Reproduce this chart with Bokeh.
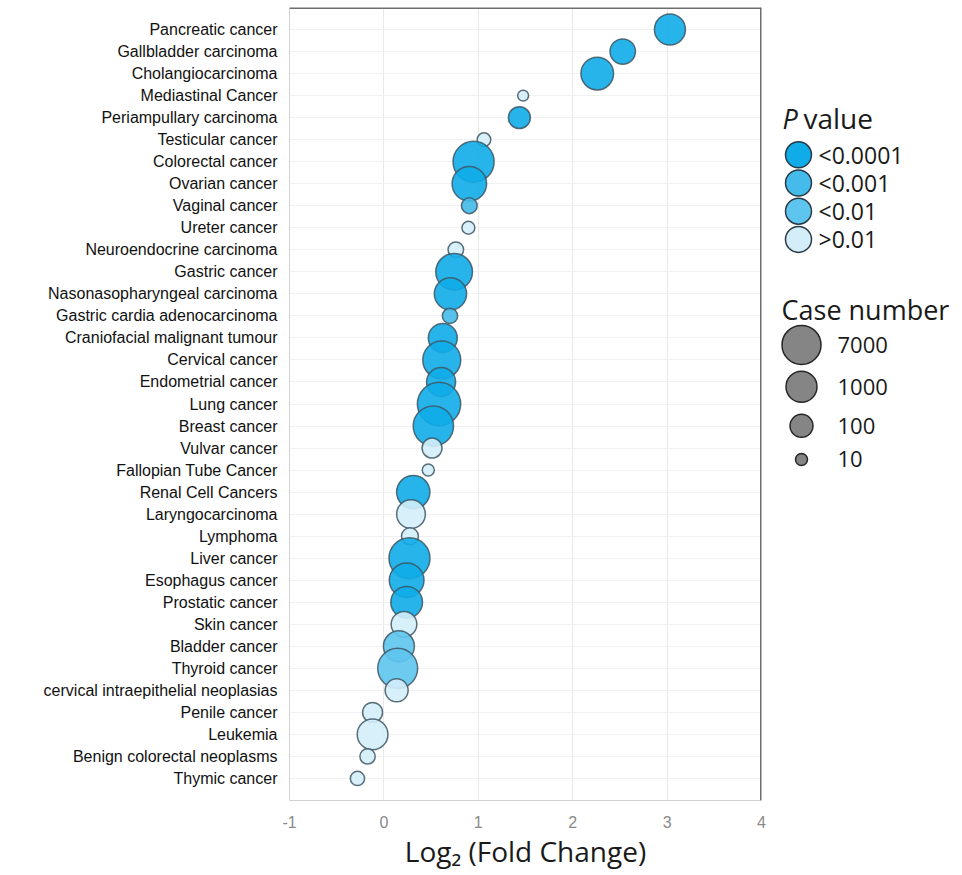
from bokeh.plotting import figure
from bokeh.layouts import row
from bokeh.models import Range1d, FixedTicker, Span, ColumnDataSource
from bokeh.core.properties import value
from bokeh.embed import file_html
from bokeh.resources import INLINE
import numpy as np

# ---------------- data ----------------
cancers = [
    "Pancreatic cancer", "Gallbladder carcinoma", "Cholangiocarcinoma", "Mediastinal Cancer",
    "Periampullary carcinoma", "Testicular cancer", "Colorectal cancer", "Ovarian cancer",
    "Vaginal cancer", "Ureter cancer", "Neuroendocrine carcinoma", "Gastric cancer",
    "Nasonasopharyngeal carcinoma", "Gastric cardia adenocarcinoma", "Craniofacial malignant tumour",
    "Cervical cancer", "Endometrial cancer", "Lung cancer", "Breast cancer", "Vulvar cancer",
    "Fallopian Tube Cancer", "Renal Cell Cancers", "Laryngocarcinoma", "Lymphoma", "Liver cancer",
    "Esophagus cancer", "Prostatic cancer", "Skin cancer", "Bladder cancer", "Thyroid cancer",
    "cervical intraepithelial neoplasias", "Penile cancer", "Leukemia", "Benign colorectal neoplasms",
    "Thymic cancer",
]
log2_fc = [
    3.03, 2.53, 2.26, 1.475,
    1.435, 1.06, 0.95, 0.905,
    0.905, 0.895, 0.762, 0.744,
    0.705, 0.70, 0.624,
    0.613, 0.606, 0.584, 0.524, 0.51,
    0.47, 0.311, 0.287, 0.276, 0.271,
    0.241, 0.241, 0.213, 0.159, 0.146,
    0.135, -0.12, -0.12, -0.173,
    -0.28,
]
case_number = [
    1000, 200, 1500, 8,
    80, 14, 11500, 2350,
    22, 12, 21, 4000,
    1370, 20, 560,
    5400, 560, 20000, 9600, 53,
    10, 1750, 515, 28, 11500,
    2450, 1190, 215, 1000, 8900,
    100, 53, 920, 20,
    16,
]
p_group = [
    "<0.0001", "<0.0001", "<0.0001", ">0.01",
    "<0.0001", ">0.01", "<0.0001", "<0.0001",
    "<0.001", ">0.01", ">0.01", "<0.0001",
    "<0.0001", "<0.001", "<0.0001",
    "<0.0001", "<0.0001", "<0.0001", "<0.0001", ">0.01",
    ">0.01", "<0.0001", ">0.01", ">0.01", "<0.0001",
    "<0.0001", "<0.0001", ">0.01", "<0.01", "<0.01",
    ">0.01", ">0.01", ">0.01", ">0.01",
    ">0.01",
]
x_ticks = [-1, 0, 1, 2, 3, 4]
x_tick_labels = ["-1", "0", "1", "2", "3", "4"]
p_labels = ["<0.0001", "<0.001", "<0.01", ">0.01"]
p_colors = ["#10ace8", "#44bbea", "#5ec5ee", "#d3eef9"]
case_legend = [7000, 1000, 100, 10]

# ---------------- scales ----------------
def bubble_size(n):
    lg = np.log10(np.asarray(n, dtype=float))
    return np.interp(lg, [0, 1, 2, 3, np.log10(7000), 5], [1, 12, 23, 31, 39, 49.9])

color_of = dict(zip(p_labels, p_colors))
n = len(cancers)
ys = [n - 1 - i for i in range(n)]

src = ColumnDataSource(dict(
    x=log2_fc, y=ys, size=bubble_size(case_number),
    color=[color_of[g] for g in p_group], name=cancers,
))

W_MAIN, W_LEG, H = 778, 180, 872

p = figure(width=W_MAIN, height=H, x_range=Range1d(x_ticks[0], x_ticks[-1]),
           y_range=Range1d(-1, n), output_backend="svg", toolbar_location=None,
           min_border_left=289, min_border_right=17, min_border_top=7, min_border_bottom=60)
p.outline_line_color = None
p.background_fill_color = "white"

p.scatter(x="x", y="y", size="size", fill_color="color", fill_alpha=0.9,
          line_color="#3d5663", line_alpha=0.85, line_width=1.5, source=src)

# axes
p.xaxis.ticker = FixedTicker(ticks=x_ticks)
p.xaxis.major_label_overrides = dict(zip(x_ticks, x_tick_labels))
p.xaxis.major_tick_line_color = None
p.xaxis.minor_tick_line_color = None
p.xaxis.axis_line_color = "#d2d2d2"
p.xaxis.major_label_text_color = "#8a8a8a"
p.xaxis.major_label_text_font = "Liberation Sans"
p.xaxis.major_label_text_font_size = "16px"
p.xaxis.major_label_standoff = 9
p.xaxis.axis_label = "Log\u2082 (Fold Change)"
p.xaxis.axis_label_text_font = "Open Sans"
p.xaxis.axis_label_text_font_style = "normal"
p.xaxis.axis_label_text_font_size = "28px"
p.xaxis.axis_label_text_color = "#1a1a1a"
p.xaxis.axis_label_standoff = 1

p.yaxis.ticker = FixedTicker(ticks=ys)
p.yaxis.major_label_overrides = {y: c for y, c in zip(ys, cancers)}
p.yaxis.major_tick_line_color = None
p.yaxis.minor_tick_line_color = None
p.yaxis.axis_line_color = "#d2d2d2"
p.yaxis.major_label_text_color = "#111111"
p.yaxis.major_label_text_font = "Liberation Sans"
p.yaxis.major_label_text_font_size = "16px"
p.yaxis.major_label_standoff = 6

p.xgrid.ticker = FixedTicker(ticks=x_ticks)
p.xgrid.grid_line_color = "#e9e9e9"
p.ygrid.ticker = FixedTicker(ticks=ys)
p.ygrid.grid_line_color = "#f1f1f1"

p.add_layout(Span(location=n, dimension="width", line_color="#6e6e6e", line_width=3))
p.add_layout(Span(location=x_ticks[-1], dimension="height", line_color="#6e6e6e", line_width=3))

# ---------------- legend panel ----------------
lg = figure(width=W_LEG, height=H, x_range=Range1d(0, W_LEG), y_range=Range1d(H, 0),
            output_backend="svg", toolbar_location=None, min_border=0,
            x_axis_location=None, y_axis_location=None)
lg.grid.visible = False
lg.outline_line_color = None

txt = dict(text_font=value("Open Sans"), text_baseline="middle", text_color="#1a1a1a")

lg.text(x=[4], y=[122], text=["P"], text_font_size=value("27px"),
        text_font_style="italic", **txt)
lg.text(x=[25], y=[122], text=["value"], text_font_size=value("28px"), **txt)
p_y = [162, 193, 224, 255]
lg.scatter(x=[20] * 4, y=p_y, size=26, fill_color=p_colors, line_color="#2a3b45", line_width=1.5)
lg.text(x=[40] * 4, y=p_y, text=p_labels, text_font_size=value("23px"), **txt)

lg.text(x=[3], y=[332], text=["Case number"], text_font_size=value("27px"), **txt)
c_y = [371, 417, 460, 497]
lg.scatter(x=[23] * 4, y=c_y, size=bubble_size(case_legend), fill_color="#858585",
           line_color="#262626", line_width=1.5)
lg.text(x=[59] * 4, y=c_y, text=[str(v) for v in case_legend],
        text_font_size=value("22px"), **txt)

layout = row(p, lg)
open("out.html", "w").write(file_html(layout, INLINE))
